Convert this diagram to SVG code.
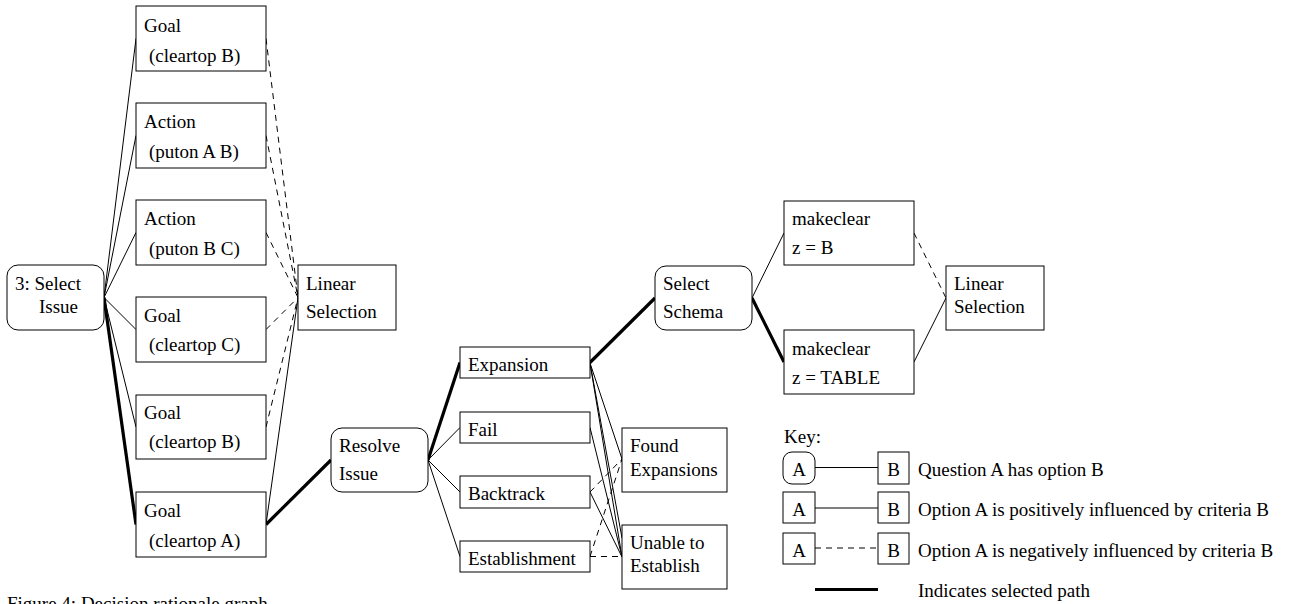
<svg xmlns="http://www.w3.org/2000/svg" width="1297" height="604" viewBox="0 0 1297 604">
<style>
text{font-family:"Liberation Serif","Times New Roman","DejaVu Serif",serif;font-size:19px;fill:#000}
.n{fill:#fff;stroke:#000;stroke-width:1}
.c{fill:none;stroke:#000;stroke-width:1}
.d{fill:none;stroke:#000;stroke-width:1;stroke-dasharray:6,5}
.t{fill:none;stroke:#000;stroke-width:3.2}
.m{text-anchor:middle}
</style>
<rect width="1297" height="604" fill="#fff"/>
<g id="connectors">
<line class="c" x1="104" y1="297.5" x2="136" y2="38.5"/>
<line class="c" x1="104" y1="297.5" x2="136" y2="135.5"/>
<line class="c" x1="104" y1="297.5" x2="136" y2="232.5"/>
<line class="c" x1="104" y1="297.5" x2="136" y2="329.5"/>
<line class="c" x1="104" y1="297.5" x2="136" y2="427"/>
<line class="t" x1="104" y1="297.5" x2="136" y2="524.5"/>
<line class="d" x1="266" y1="38.5" x2="298" y2="297.5"/>
<line class="d" x1="266" y1="135.5" x2="298" y2="297.5"/>
<line class="d" x1="266" y1="232.5" x2="298" y2="297.5"/>
<line class="d" x1="266" y1="329.5" x2="298" y2="297.5"/>
<line class="d" x1="266" y1="427" x2="298" y2="297.5"/>
<line class="c" x1="266" y1="524.5" x2="298" y2="297.5"/>
<line class="t" x1="266" y1="524.5" x2="331" y2="460"/>
<line class="t" x1="428" y1="460" x2="460" y2="362.5"/>
<line class="c" x1="428" y1="460" x2="460" y2="427.5"/>
<line class="c" x1="428" y1="460" x2="460" y2="492"/>
<line class="c" x1="428" y1="460" x2="460" y2="556.5"/>
<line class="t" x1="590" y1="362.5" x2="655" y2="298"/>
<line class="c" x1="752" y1="298" x2="784" y2="233"/>
<line class="t" x1="752" y1="298" x2="784" y2="362"/>
<line class="d" x1="914" y1="233" x2="946" y2="298"/>
<line class="c" x1="914" y1="362" x2="946" y2="298"/>
<line class="c" x1="590" y1="363" x2="622" y2="459"/>
<line class="c" x1="590" y1="363" x2="622" y2="557"/>
<line class="c" x1="590" y1="363" x2="622" y2="538"/>
<line class="c" x1="590" y1="427.5" x2="622" y2="557"/>
<line class="c" x1="590" y1="492" x2="622" y2="557"/>
<line class="d" x1="590" y1="492" x2="622" y2="459"/>
<line class="d" x1="590" y1="556.5" x2="622" y2="459"/>
<line class="d" x1="590" y1="556.5" x2="622" y2="556.5"/>
</g>
<g id="select-issue"><rect class="n" x="7" y="265" width="97" height="65" rx="11"/><text x="15" y="290">3: Select</text><text x="39" y="313">Issue</text></g>
<g id="goal-b1"><rect class="n" x="136" y="6" width="130" height="65"/><text x="144" y="32">Goal</text><text x="149" y="62">(cleartop B)</text></g>
<g id="action-ab"><rect class="n" x="136" y="103" width="130" height="65"/><text x="144" y="128">Action</text><text x="149" y="158">(puton A B)</text></g>
<g id="action-bc"><rect class="n" x="136" y="200" width="130" height="65"/><text x="144" y="225">Action</text><text x="149" y="255">(puton B C)</text></g>
<g id="goal-c"><rect class="n" x="136" y="297" width="130" height="65"/><text x="144" y="322">Goal</text><text x="149" y="351">(cleartop C)</text></g>
<g id="goal-b2"><rect class="n" x="136" y="395" width="130" height="64"/><text x="144" y="419">Goal</text><text x="149" y="448">(cleartop B)</text></g>
<g id="goal-a"><rect class="n" x="136" y="492" width="130" height="65"/><text x="144" y="517">Goal</text><text x="149" y="547">(cleartop A)</text></g>
<g id="linear-1"><rect class="n" x="298" y="265" width="98" height="65"/><text x="306" y="290">Linear</text><text x="306" y="318">Selection</text></g>
<g id="resolve-issue"><rect class="n" x="331" y="428" width="97" height="64" rx="11"/><text x="339" y="452">Resolve</text><text x="339" y="480">Issue</text></g>
<g id="expansion"><rect class="n" x="460" y="347" width="130" height="31"/><text x="468" y="371">Expansion</text></g>
<g id="fail"><rect class="n" x="460" y="412" width="130" height="31"/><text x="468" y="436">Fail</text></g>
<g id="backtrack"><rect class="n" x="460" y="476" width="130" height="32"/><text x="468" y="500">Backtrack</text></g>
<g id="establishment"><rect class="n" x="460" y="541" width="130" height="31"/><text x="468" y="565">Establishment</text></g>
<g id="found-expansions"><rect class="n" x="622" y="428" width="105" height="64"/><text x="630" y="452">Found</text><text x="630" y="476">Expansions</text></g>
<g id="unable"><rect class="n" x="622" y="525" width="105" height="64"/><text x="630" y="549">Unable to</text><text x="630" y="572">Establish</text></g>
<g id="select-schema"><rect class="n" x="655" y="266" width="97" height="64" rx="11"/><text x="663" y="290">Select</text><text x="663" y="318">Schema</text></g>
<g id="makeclear-b"><rect class="n" x="784" y="201" width="130" height="64"/><text x="792" y="225">makeclear</text><text x="792" y="254">z = B</text></g>
<g id="makeclear-table"><rect class="n" x="784" y="330" width="130" height="64"/><text x="792" y="355">makeclear</text><text x="792" y="384">z = TABLE</text></g>
<g id="linear-2"><rect class="n" x="946" y="266" width="98" height="64"/><text x="954" y="290">Linear</text><text x="954" y="313">Selection</text></g>
<g id="key">
<text x="784" y="443">Key:</text>
<line class="c" x1="815" y1="467.5" x2="878" y2="467.5"/>
<rect class="n" x="783" y="452" width="32" height="32" rx="9"/><text class="m" x="799" y="476">A</text>
<rect class="n" x="878" y="452" width="31" height="32"/><text class="m" x="893.5" y="476">B</text>
<text x="918" y="476">Question A has option B</text>
<line class="c" x1="815" y1="508" x2="878" y2="508"/>
<rect class="n" x="783" y="492" width="32" height="31"/><text class="m" x="799" y="516">A</text>
<rect class="n" x="878" y="492" width="31" height="31"/><text class="m" x="893.5" y="516">B</text>
<text x="918" y="516">Option A is positively influenced by criteria B</text>
<line class="d" x1="815" y1="548" x2="878" y2="548"/>
<rect class="n" x="783" y="533" width="32" height="31"/><text class="m" x="799" y="557">A</text>
<rect class="n" x="878" y="533" width="31" height="31"/><text class="m" x="893.5" y="557">B</text>
<text x="918" y="557">Option A is negatively influenced by criteria B</text>
<line class="t" x1="815" y1="589.5" x2="878" y2="589.5"/>
<text x="918" y="597">Indicates selected path</text>
</g>
<text x="7" y="610">Figure 4: Decision rationale graph</text>
</svg>
